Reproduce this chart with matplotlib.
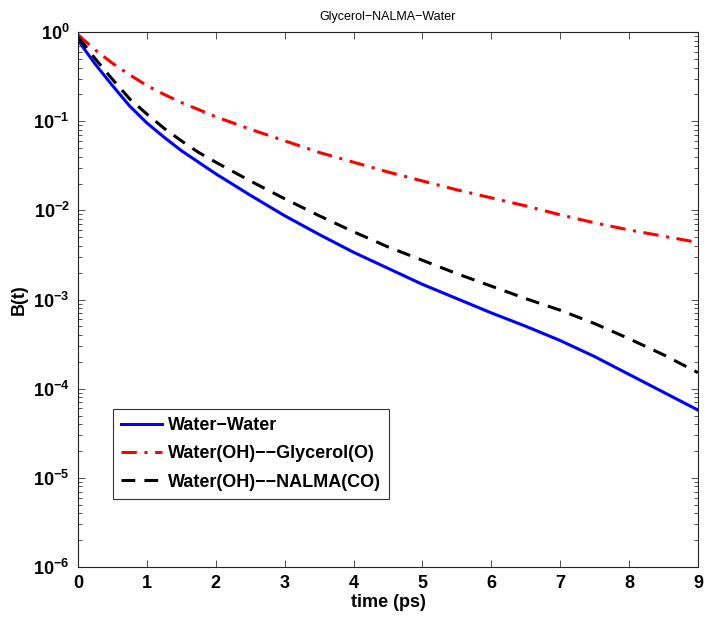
import numpy as np
import matplotlib
matplotlib.use("Agg")
import matplotlib.pyplot as plt
from matplotlib.ticker import FixedLocator, FixedFormatter, LogLocator, NullFormatter

plt.rcParams['font.family'] = ['Liberation Sans', 'DejaVu Sans']
plt.rcParams['mathtext.fontset'] = 'custom'
plt.rcParams['mathtext.rm'] = 'Liberation Sans'
plt.rcParams['mathtext.bf'] = 'Liberation Sans:bold'

# ---- data (as log10 of B(t)) ----
time_ps = [0.0, 0.1, 0.25, 0.5, 0.75, 1.0, 1.25, 1.5, 1.75, 2.0, 2.5, 3.0, 3.5,
           4.0, 4.5, 5.0, 5.5, 6.0, 6.5, 7.0, 7.5, 8.0, 8.5, 9.0]
log10_water_water = [-0.09, -0.20, -0.36, -0.60, -0.83, -1.02, -1.18, -1.33, -1.46,
                     -1.59, -1.83, -2.06, -2.27, -2.47, -2.65, -2.83, -2.99, -3.15,
                     -3.30, -3.46, -3.64, -3.84, -4.04, -4.24]
log10_water_glycerol = [-0.03, -0.10, -0.20, -0.35, -0.48, -0.60, -0.70, -0.79, -0.87,
                        -0.95, -1.09, -1.22, -1.35, -1.46, -1.57, -1.67, -1.77, -1.86,
                        -1.95, -2.05, -2.14, -2.22, -2.29, -2.36]
log10_water_nalma = [-0.06, -0.15, -0.30, -0.53, -0.75, -0.92, -1.08, -1.22, -1.35,
                     -1.46, -1.67, -1.87, -2.06, -2.24, -2.41, -2.56, -2.71, -2.85,
                     -2.99, -3.12, -3.27, -3.44, -3.62, -3.82]

series_labels = ['Water\u2212Water', 'Water(OH)\u2212\u2212Glycerol(O)',
                 'Water(OH)\u2212\u2212NALMA(CO)']
x_ticks = [0, 1, 2, 3, 4, 5, 6, 7, 8, 9]
y_ticks = [1e0, 1e-1, 1e-2, 1e-3, 1e-4, 1e-5, 1e-6]
y_tick_labels = [r'$\mathbf{10^{0}}$', r'$\mathbf{10^{-1}}$', r'$\mathbf{10^{-2}}$',
                 r'$\mathbf{10^{-3}}$', r'$\mathbf{10^{-4}}$', r'$\mathbf{10^{-5}}$',
                 r'$\mathbf{10^{-6}}$']

fig = plt.figure(figsize=(7.07, 6.23), dpi=100)
ax = fig.add_axes([0.1103, 0.0899, 0.8769, 0.8587])

ax.plot(time_ps, 10 ** np.array(log10_water_water), color='#0000ff', lw=2.2, ls='-',
        label=series_labels[0])
ax.plot(time_ps, 10 ** np.array(log10_water_glycerol), color='#ff0000', lw=2.2,
        ls=(0, (5, 2.5, 1, 2.5)), label=series_labels[1])
ax.plot(time_ps, 10 ** np.array(log10_water_nalma), color='black', lw=2.2,
        ls=(0, (4.5, 3)), label=series_labels[2])

ax.set_yscale('log')
ax.set_xlim(0, 9)
ax.set_ylim(1e-6, 1e0)

ax.xaxis.set_major_locator(FixedLocator(x_ticks))
ax.set_xticklabels([str(v) for v in x_ticks], fontsize=13, fontweight='bold')
ax.yaxis.set_major_locator(FixedLocator(y_ticks))
ax.yaxis.set_major_formatter(FixedFormatter(y_tick_labels))
ax.yaxis.set_minor_locator(LogLocator(base=10, subs=np.arange(2, 10), numticks=20))
ax.yaxis.set_minor_formatter(NullFormatter())
for lab in ax.get_yticklabels():
    lab.set_fontsize(13)

ax.tick_params(which='both', direction='in', top=True, right=True, width=0.6, color='#333333')
ax.tick_params(which='major', length=5, pad=6)
ax.tick_params(which='minor', length=3)
for s in ax.spines.values():
    s.set_linewidth(0.8)
    s.set_color('#222222')

ax.set_xlabel('time (ps)', fontsize=13, fontweight='bold', labelpad=1)
ax.set_ylabel('B(t)', fontsize=13, fontweight='bold', labelpad=4)
ax.set_title('Glycerol\u2212NALMA\u2212Water', fontsize=9, pad=9)

leg = ax.legend(loc='upper left', bbox_to_anchor=(0.056, 0.295), borderaxespad=0,
                prop={'weight': 'bold', 'size': 13}, frameon=True, fancybox=False,
                framealpha=1, edgecolor='#333333', handlelength=2.3,
                handletextpad=0.3, labelspacing=0.62, borderpad=0.45)
leg.get_frame().set_linewidth(0.8)

fig.savefig('out.png', dpi=100)
